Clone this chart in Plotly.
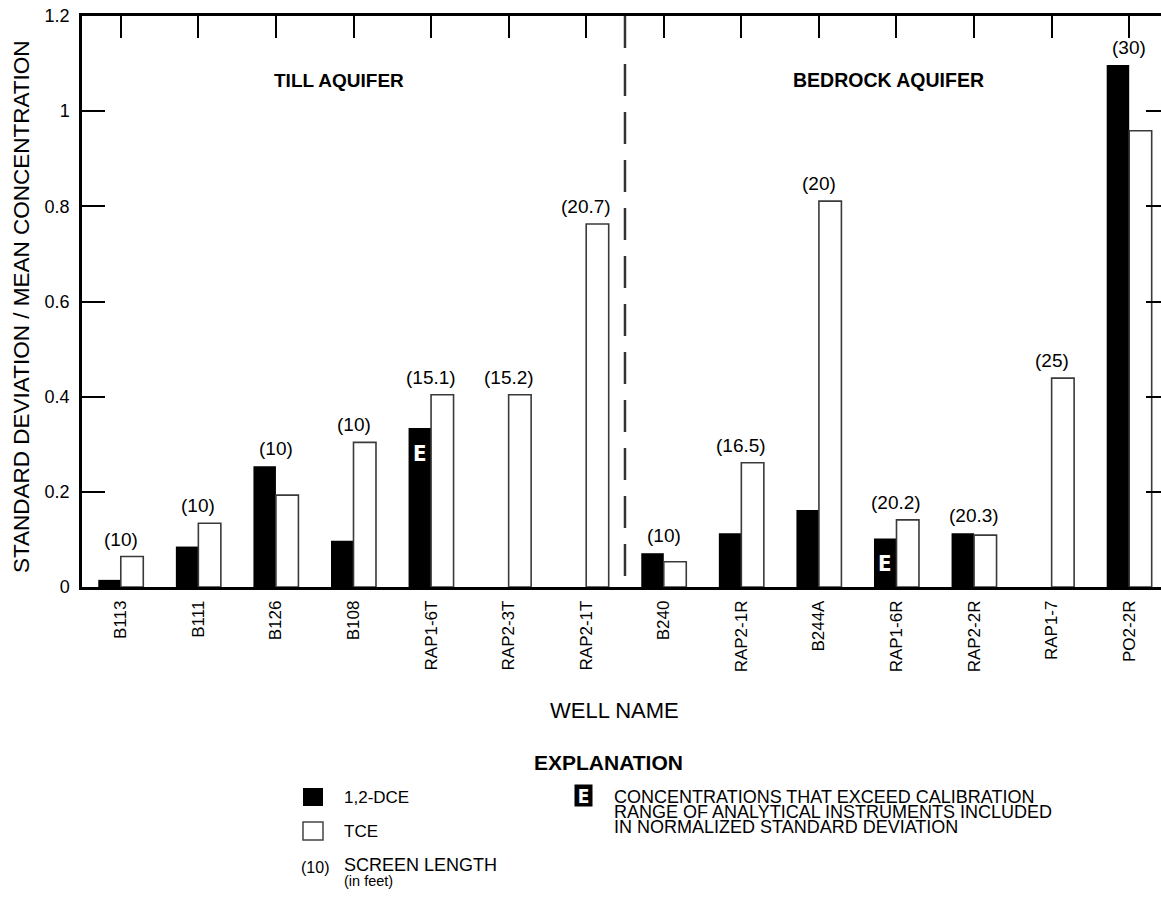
import plotly.graph_objects as go

wells = ["B113", "B111", "B126", "B108", "RAP1-6T", "RAP2-3T", "RAP2-1T",
         "B240", "RAP2-1R", "B244A", "RAP1-6R", "RAP2-2R", "RAP1-7", "PO2-2R"]
dce = [0.015, 0.085, 0.254, 0.097, 0.334, None, None,
       0.071, 0.113, 0.162, 0.102, 0.113, None, 1.097]
tce = [0.064, 0.134, 0.193, 0.304, 0.404, 0.404, 0.763,
       0.053, 0.261, 0.811, 0.141, 0.109, 0.439, 0.959]
screen = ["10", "10", "10", "10", "15.1", "15.2", "20.7",
          "10", "16.5", "20", "20.2", "20.3", "25", "30"]
exceed = ["RAP1-6T", "RAP1-6R"]
yticks = [0, 0.2, 0.4, 0.6, 0.8, 1.0, 1.2]

idx = list(range(len(wells)))
FONT = "Liberation Sans, Arial, Helvetica, sans-serif"
NARROW = "Liberation Sans Narrow, DejaVu Sans Condensed, Arial Narrow, sans-serif"

# page body margin is removed (see post_script), so figure pixels == page pixels
W, H = 1161, 901
L, R, T, B = 82, 1161, 16, 587
def px(x):
    return (x - L) / (R - L)
def py(y):
    return (B - y) / (B - T)

fig = go.Figure()
fig.add_trace(go.Bar(x=idx, y=dce, name="1,2-DCE", marker=dict(color="black", line=dict(width=0)),
                     showlegend=False))
fig.add_trace(go.Bar(x=idx, y=tce, name="TCE", marker=dict(color="white", line=dict(color="#3a3a3a", width=1.6)),
                     showlegend=False))
# dummy trace to activate overlay axes (top/right ticks)
fig.add_trace(go.Scatter(x=[None], y=[None], xaxis="x2", yaxis="y2", showlegend=False, hoverinfo="skip"))

xr = [-0.5, 13.41]
fig.update_layout(
    width=W, height=H,
    margin=dict(l=L, r=W - R, t=T, b=H - B, pad=0),
    paper_bgcolor="white", plot_bgcolor="white",
    barmode="group", bargap=0.42, bargroupgap=0,
    font=dict(family=FONT, color="black"),
    xaxis=dict(range=xr, tickmode="array", tickvals=idx, ticktext=wells, tickangle=-90,
               showline=True, linewidth=2.5, linecolor="black", mirror=True, ticks="",
               showgrid=False, zeroline=False, tickfont=dict(size=17, family=FONT),
               ticklabelstandoff=4),
    yaxis=dict(range=[0, 1.2], tickmode="array", tickvals=yticks, ticks="inside", ticklen=23,
               tickwidth=1.5, tickcolor="black", showline=True, linewidth=2.5, linecolor="black",
               showgrid=False, zeroline=False, tickfont=dict(size=18, family=FONT),
               ticklabelstandoff=6, ticklabeloverflow="allow"),
    xaxis2=dict(range=xr, overlaying="x", side="top", anchor="y2", tickmode="array", tickvals=idx,
                ticks="inside", ticklen=22, tickwidth=1.5, tickcolor="black", showticklabels=False,
                showline=False, showgrid=False, zeroline=False),
    yaxis2=dict(range=[0, 1.2], overlaying="y", side="right", anchor="x2", tickmode="array",
                tickvals=yticks, ticks="inside", ticklen=15, tickwidth=1.5, tickcolor="black",
                showticklabels=False, showline=False, showgrid=False, zeroline=False),
)

# divider between aquifers
fig.add_shape(type="line", xref="x", yref="paper", x0=6.5, x1=6.5, y0=1, y1=0,
              line=dict(color="#333", width=2.5, dash="32px,16px"))

ann = []
# screen length labels
for i, s in enumerate(screen):
    top = max(v for v in (dce[i], tce[i]) if v is not None)
    ann.append(dict(x=i, y=top, xref="x", yref="y", text=f"({s})", showarrow=False,
                    xanchor="center", yanchor="bottom", yshift=5, font=dict(size=19, family=FONT)))
# E markers
for w in exceed:
    i = wells.index(w)
    ann.append(dict(x=i, y=dce[i], xref="x", yref="y", text="<b>E</b>", showarrow=False,
                    xanchor="center", yanchor="top", yshift=-11, xshift=-11.5,
                    font=dict(size=22, family=NARROW, color="white")))

def label(x, y, text, size, anchor="center", **kw):
    ann.append(dict(x=px(x), y=py(y), xref="paper", yref="paper", text=text, showarrow=False,
                    xanchor=anchor, yanchor="middle", font=dict(size=size), **kw))

# aquifer labels
label(339, 80, "<b>TILL AQUIFER</b>", 19)
label(888, 80, "<b>BEDROCK AQUIFER</b>", 19.5)
# axis titles
label(21, 307, "STANDARD DEVIATION / MEAN CONCENTRATION", 22.5, textangle=-90)
label(614, 710, "WELL NAME", 22)
# explanation
label(608, 762, "<b>EXPLANATION</b>", 21)
label(342, 797, "1,2-DCE", 17, anchor="left")
label(342, 831, "TCE", 17, anchor="left")
label(315, 867, "(10)", 16)
label(342, 865, "SCREEN LENGTH", 18, anchor="left")
label(342, 881, "(in feet)", 14.5, anchor="left")
expl_lines = ["CONCENTRATIONS THAT EXCEED CALIBRATION",
              "RANGE OF ANALYTICAL INSTRUMENTS INCLUDED",
              "IN NORMALIZED STANDARD DEVIATION"]
for k, line in enumerate(expl_lines):
    label(612, 797 + 15 * k, line, 18, anchor="left")
ann.append(dict(x=px(583), y=py(795), xref="paper", yref="paper", text="<b>E</b>",
                showarrow=False, xanchor="center", yanchor="middle",
                bgcolor="black", width=17, height=21, borderpad=0,
                font=dict(size=19, family=NARROW, color="white")))
fig.update_layout(annotations=ann)

# legend swatches
fig.add_shape(type="rect", xref="paper", yref="paper", x0=px(303), x1=px(323), y0=py(788), y1=py(806),
              fillcolor="black", line=dict(width=0))
fig.add_shape(type="rect", xref="paper", yref="paper", x0=px(303), x1=px(323), y0=py(822), y1=py(840),
              fillcolor="white", line=dict(color="#444", width=1.5))

fig.write_html("out.html", config={"displayModeBar": False},
               post_script="document.body.style.margin='0';document.body.style.overflow='hidden';")
